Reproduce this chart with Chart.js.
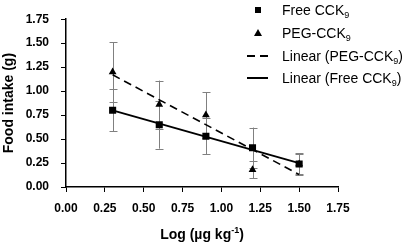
<!DOCTYPE html>
<html lang="en">
<head>
    <meta charset="UTF-8">
    <title>Food intake vs dose</title>
    <script src="https://cdn.jsdelivr.net/npm/chart.js"></script>
    <style>
        body {
            margin: 0;
            padding: 0;
            background: #fff;
            font-family: "Liberation Sans", Arial, sans-serif;
        }
        #wrap {
            position: relative;
            width: 412px;
            height: 245px;
        }
        .legend {
            position: absolute;
            left: 0;
            top: 0;
            font-size: 14px;
            color: #000;
        }
        .legend .row {
            position: absolute;
            left: 244px;
            height: 16px;
            width: 168px;
            white-space: nowrap;
        }
        .legend .mark {
            position: absolute;
            top: 50%;
        }
        .legend .txt {
            position: absolute;
            left: 38px;
            top: 0;
            line-height: 16px;
        }
        .legend sub {
            font-size: 9px;
            vertical-align: -3px;
            line-height: 0;
        }
        .sq { left: 11px; width: 6px; height: 6px; margin-top: -3px; background: #000; }
        .tri { left: 10px; width: 0; height: 0; margin-top: -4px;
               border-left: 4px solid transparent; border-right: 4px solid transparent;
               border-bottom: 7px solid #000; }
        .dash { left: 3px; width: 21px; height: 2px; margin-top: -1px;
                background: linear-gradient(to right, #000 0 8px, transparent 8px 13px, #000 13px 21px); }
        .solid { left: 3px; width: 21px; margin-top: -1px; border-top: 2px solid #000; }
        .xtitle {
            position: absolute;
            left: 66px;
            width: 272px;
            top: 226px;
            text-align: center;
            font-weight: bold;
            font-size: 14px;
        }
        .xtitle sup {
            font-size: 9px;
            vertical-align: 6px;
            line-height: 0;
        }
    </style>
</head>
<body>
<div id="wrap">
    <canvas id="chart" width="412" height="245"></canvas>
    <div class="legend">
        <div class="row" style="top:2px"><span class="mark sq"></span><span class="txt">Free CCK<sub>9</sub></span></div>
        <div class="row" style="top:25px"><span class="mark tri"></span><span class="txt">PEG-CCK<sub>9</sub></span></div>
        <div class="row" style="top:48px"><span class="mark dash"></span><span class="txt">Linear (PEG-CCK<sub>9</sub>)</span></div>
        <div class="row" style="top:70px"><span class="mark solid"></span><span class="txt">Linear (Free CCK<sub>9</sub>)</span></div>
    </div>
    <div class="xtitle">Log (&micro;g kg<sup>-1</sup>)</div>
</div>

<script>
    // log dose values
    const doses = [0.3, 0.6, 0.9, 1.2, 1.5];

    // food intake (g), mean and error
    const freeIntake = [0.80, 0.65, 0.53, 0.41, 0.24];
    const freeErr = [0.22, 0.25, 0.19, 0.21, 0.11];
    const pegIntake = [1.20, 0.86, 0.75, 0.18, 0.24];
    const pegErr = [0.31, 0.25, 0.24, 0.09, 0.10];

    // linear trend end points
    const trendX = [0.3, 1.5];
    const pegTrend = [1.17, 0.13];
    const freeTrend = [0.80, 0.25];

    const axisTicks = [0, 0.25, 0.5, 0.75, 1, 1.25, 1.5, 1.75];

    const toPoints = (xs, ys) => xs.map((x, i) => ({ x: x, y: ys[i] }));

    const errorBars = {
        id: 'errorBars',
        beforeDatasetsDraw(chart) {
            const ctx = chart.ctx;
            const xs = chart.scales.x;
            const ys = chart.scales.y;
            ctx.save();
            ctx.strokeStyle = '#808080';
            ctx.lineWidth = 1;
            [[pegIntake, pegErr], [freeIntake, freeErr]].forEach(([vals, errs]) => {
                vals.forEach((v, i) => {
                    const px = Math.round(xs.getPixelForValue(doses[i])) + 0.5;
                    const top = ys.getPixelForValue(v + errs[i]);
                    const bot = ys.getPixelForValue(v - errs[i]);
                    ctx.beginPath();
                    ctx.moveTo(px, top);
                    ctx.lineTo(px, bot);
                    ctx.moveTo(px - 4, Math.round(top) + 0.5);
                    ctx.lineTo(px + 4, Math.round(top) + 0.5);
                    ctx.moveTo(px - 4, Math.round(bot) + 0.5);
                    ctx.lineTo(px + 4, Math.round(bot) + 0.5);
                    ctx.stroke();
                });
            });
            ctx.restore();
        }
    };

    const font = { family: '"Liberation Sans", Arial, sans-serif', size: 12, weight: 'bold' };

    new Chart(document.getElementById('chart'), {
        type: 'scatter',
        data: {
            datasets: [
                {
                    label: 'Free CCK9',
                    data: toPoints(doses, freeIntake),
                    pointStyle: 'rect',
                    pointRadius: 5,
                    backgroundColor: '#000',
                    borderColor: '#000',
                    borderWidth: 0,
                    order: 0
                },
                {
                    label: 'PEG-CCK9',
                    data: toPoints(doses, pegIntake),
                    pointStyle: 'triangle',
                    pointRadius: 4.5,
                    backgroundColor: '#000',
                    borderColor: '#000',
                    borderWidth: 0,
                    order: 1
                },
                {
                    label: 'Linear (PEG-CCK9)',
                    data: toPoints(trendX, pegTrend),
                    showLine: true,
                    pointRadius: 0,
                    borderColor: '#000',
                    borderWidth: 1.6,
                    borderDash: [8, 5],
                    order: 2
                },
                {
                    label: 'Linear (Free CCK9)',
                    data: toPoints(trendX, freeTrend),
                    showLine: true,
                    pointRadius: 0,
                    borderColor: '#000',
                    borderWidth: 1.8,
                    order: 3
                }
            ]
        },
        options: {
            responsive: false,
            animation: false,
            layout: { padding: { top: 7, right: 74, left: 0, bottom: 0 } },
            plugins: {
                legend: { display: false },
                tooltip: { enabled: false }
            },
            scales: {
                x: {
                    type: 'linear',
                    min: 0,
                    max: 1.75,
                    afterBuildTicks: s => { s.ticks = axisTicks.map(v => ({ value: v })); },
                    afterFit: s => { s.height = 58; },
                    border: { color: '#000', width: 1.5 },
                    grid: { drawOnChartArea: false, drawTicks: true, tickLength: 5, color: '#000', lineWidth: 1 },
                    ticks: {
                        color: '#000',
                        font: font,
                        padding: 9,
                        maxRotation: 0,
                        callback: v => v.toFixed(2)
                    }
                },
                y: {
                    type: 'linear',
                    min: 0,
                    max: 1.75,
                    afterBuildTicks: s => { s.ticks = axisTicks.map(v => ({ value: v })); },
                    afterFit: s => { s.width = 66; },
                    border: { color: '#000', width: 1.5 },
                    grid: { drawOnChartArea: false, drawTicks: true, tickLength: 5, color: '#000', lineWidth: 1 },
                    title: {
                        display: true,
                        text: 'Food intake (g)',
                        color: '#000',
                        font: { family: '"Liberation Sans", Arial, sans-serif', size: 14, weight: 'bold' },
                        padding: { top: 1, bottom: 0 }
                    },
                    ticks: {
                        color: '#000',
                        font: font,
                        padding: 12,
                        callback: v => v.toFixed(2)
                    }
                }
            }
        },
        plugins: [errorBars]
    });
</script>
</body>
</html>
